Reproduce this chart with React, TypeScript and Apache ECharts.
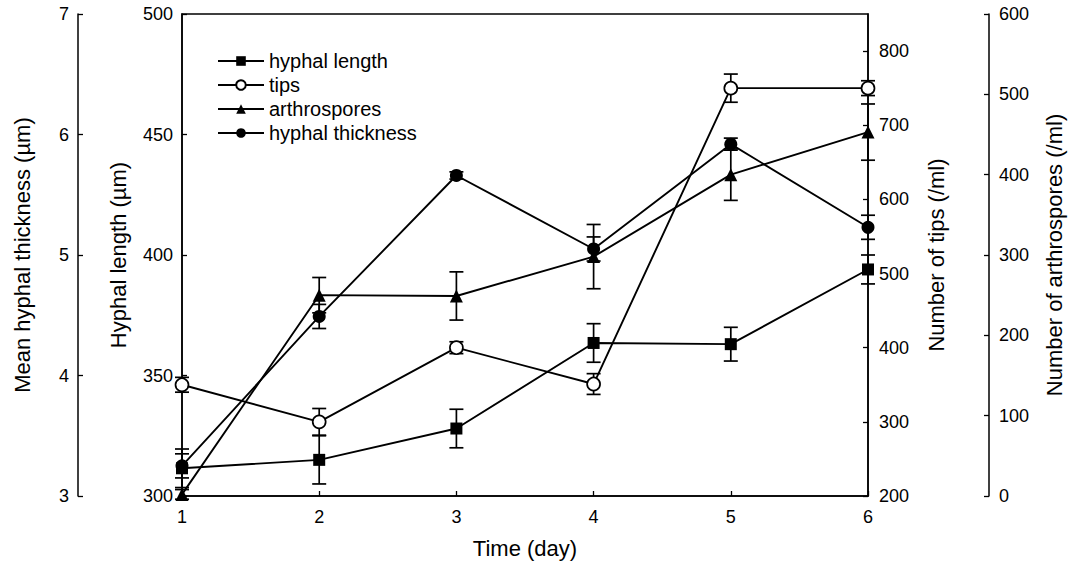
import React, { useEffect, useRef } from "react";
import * as echarts from "echarts";

// Sampling days
const days = [1, 2, 3, 4, 5, 6];

// Hyphal length (µm), mean ± error
const hyphalLength = [311.5, 315, 328, 363.5, 363, 394];
const hyphalLengthErr = [8, 10, 8, 8, 7, 6];

// Number of tips (/ml)
const tips = [350, 300, 400, 351, 750, 750];
const tipsErr = [10, 18, 8, 14, 19, 10];

// Number of arthrospores (/ml)
const arthrospores = [2, 250, 249, 298, 400, 453];
const arthrosporesErr = [6, 22, 30, 40, 32, 35];

// Mean hyphal thickness (µm)
const thickness = [3.25, 4.49, 5.66, 5.05, 5.92, 5.23];
const thicknessErr = [0.1, 0.1, 0.03, 0.1, 0.05, 0.1];

const FONT = "'Liberation Sans', Arial, sans-serif";
const INK = "#000";

const toPairs = (vals: number[]) => days.map((d, i) => [d, vals[i]]);
const toErr = (vals: number[], errs: number[]) =>
  days.map((d, i) => [d, vals[i], errs[i]]);

const errorSeries = (data: number[][], yAxisIndex: number) => ({
  type: "custom",
  yAxisIndex,
  z: 1,
  silent: true,
  data,
  renderItem: (_params: any, api: any) => {
    const x = api.value(0);
    const y = api.value(1);
    const e = api.value(2);
    const top = api.coord([x, y + e]);
    const bot = api.coord([x, y - e]);
    const hw = 7;
    const style = { stroke: INK, lineWidth: 1.7 };
    return {
      type: "group",
      children: [
        { type: "line", shape: { x1: top[0], y1: top[1], x2: bot[0], y2: bot[1] }, style },
        { type: "line", shape: { x1: top[0] - hw, y1: top[1], x2: top[0] + hw, y2: top[1] }, style },
        { type: "line", shape: { x1: bot[0] - hw, y1: bot[1], x2: bot[0] + hw, y2: bot[1] }, style },
      ],
    };
  },
});

const lineSeries = (
  name: string,
  data: number[][],
  yAxisIndex: number,
  symbol: string,
  symbolSize: number,
  hollow: boolean,
  z: number
) => ({
  name,
  type: "line",
  yAxisIndex,
  z,
  data,
  symbol,
  symbolSize,
  showAllSymbol: true,
  lineStyle: { color: INK, width: 1.9 },
  itemStyle: { color: hollow ? "#fff" : INK, borderColor: INK, borderWidth: hollow ? 1.7 : 0 },
});

const axisText = { color: INK, fontFamily: FONT, fontSize: 18 };
const nameText = { color: INK, fontFamily: FONT, fontSize: 22 };

const yAxisBase = {
  type: "value",
  nameLocation: "middle",
  nameTextStyle: nameText,
  splitLine: { show: false },
  axisLine: { show: true, lineStyle: { color: INK, width: 1.5 } },
  axisTick: { show: true, inside: true, length: 5, lineStyle: { color: INK, width: 1.3 } },
  axisLabel: { ...axisText },
};

export default function App() {
  const ref = useRef<HTMLDivElement>(null);

  useEffect(() => {
    if (!ref.current) return;
    const chart = echarts.init(ref.current, undefined, { renderer: "svg" });
    chart.setOption({
      animation: false,
      backgroundColor: "#fff",
      grid: {
        left: 182,
        right: 201,
        top: 14,
        bottom: 70,
        show: true,
        borderColor: INK,
        borderWidth: 1.5,
      },
      legend: {
        data: ["hyphal length", "tips", "arthrospores", "hyphal thickness"],
        orient: "vertical",
        left: 212,
        top: 46,
        itemWidth: 46,
        itemHeight: 12,
        itemGap: 4,
        textStyle: { color: INK, fontFamily: FONT, fontSize: 20 },
      },
      xAxis: {
        type: "value",
        min: 1,
        max: 6,
        interval: 1,
        name: "Time (day)",
        nameLocation: "middle",
        nameGap: 41,
        nameTextStyle: nameText,
        splitLine: { show: false },
        axisLine: { show: true, lineStyle: { color: INK, width: 1.5 } },
        axisTick: { show: true, inside: true, length: 5, lineStyle: { color: INK, width: 1.3 } },
        axisLabel: { ...axisText, margin: 12 },
      },
      yAxis: [
        {
          ...yAxisBase,
          position: "left",
          min: 300,
          max: 500,
          interval: 50,
          name: "Hyphal length (µm)",
          nameGap: 53,
          axisLabel: { ...axisText, margin: 9 },
        },
        {
          ...yAxisBase,
          position: "left",
          offset: 104,
          min: 3,
          max: 7,
          interval: 1,
          name: "Mean hyphal thickness (µm)",
          nameGap: 45,
          axisLabel: { ...axisText, margin: 9 },
        },
        {
          ...yAxisBase,
          position: "right",
          min: 200,
          max: 850,
          interval: 100,
          name: "Number of tips (/ml)",
          nameGap: 57,
          axisLabel: { ...axisText, margin: 11, showMaxLabel: false },
        },
        {
          ...yAxisBase,
          position: "right",
          offset: 121,
          min: 0,
          max: 600,
          interval: 100,
          name: "Number of arthrospores (/ml)",
          nameGap: 54,
          axisLabel: { ...axisText, margin: 10 },
        },
      ],
      series: [
        errorSeries(toErr(hyphalLength, hyphalLengthErr), 0),
        errorSeries(toErr(tips, tipsErr), 2),
        errorSeries(toErr(arthrospores, arthrosporesErr), 3),
        errorSeries(toErr(thickness, thicknessErr), 1),
        lineSeries("hyphal thickness", toPairs(thickness), 1, "circle", 13, false, 3),
        lineSeries("arthrospores", toPairs(arthrospores), 3, "triangle", 13, false, 3),
        lineSeries("tips", toPairs(tips), 2, "circle", 13, true, 4),
        lineSeries("hyphal length", toPairs(hyphalLength), 0, "rect", 12, false, 5),
      ],
    });
    return () => chart.dispose();
  }, []);

  return (
    <div
      ref={ref}
      style={{ position: "fixed", left: 0, top: 0, width: 1073, height: 566, background: "#fff" }}
    />
  );
}
